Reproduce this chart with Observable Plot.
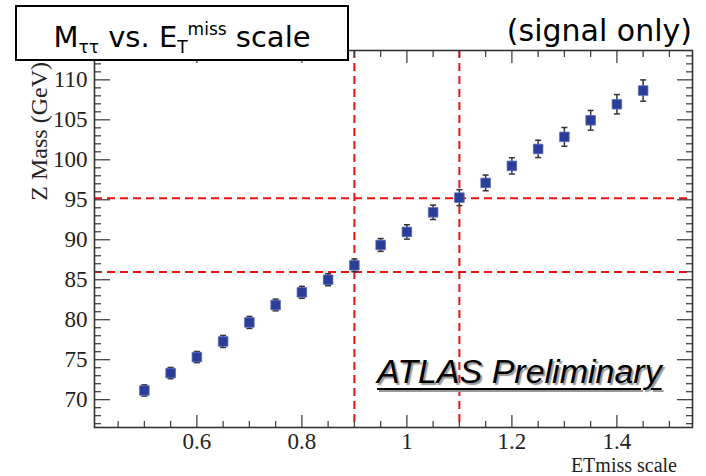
<!DOCTYPE html>
<html>
<head>
<meta charset="utf-8">
<script src="https://cdn.jsdelivr.net/npm/d3@7"></script>
<script src="https://cdn.jsdelivr.net/npm/@observablehq/plot@0.6"></script>
<style>
  html, body { margin: 0; padding: 0; background: #fff; }
  #wrap { position: relative; width: 706px; height: 476px; overflow: hidden; background: #fff; }
  #wrap svg { position: absolute; left: 0; top: 0; }
  .ov { position: absolute; white-space: nowrap; }
  #title { left: 15px; top: 5px; width: 330px; height: 52px; border: 2px solid #000; background: #fff;
           font-family: "DejaVu Sans", sans-serif; font-size: 29px; color: #000; line-height: 44px; text-align: center; }
  #title sub, #title sup { font-size: 17px; }
  #title sub { vertical-align: -6px; }
  #title sup { vertical-align: 12px; }
  #sig { right: 14px; top: 13px; font-family: "DejaVu Sans", sans-serif; font-size: 30px; color: #000; }
  #atlas { left: 377px; top: 352px; font-family: "Liberation Sans", Arial, sans-serif; font-style: italic;
           font-size: 34px; color: #000; text-decoration: underline; text-decoration-thickness: 2px;
           text-underline-offset: 5px; text-shadow: 2px 2px 1px #999; }
  #ylab { left: 39px; top: 62px; font-family: "Liberation Serif", serif; font-size: 24px; color: #222;
          transform-origin: 0 0; transform: rotate(-90deg) translate(-100%, -50%); }
  #xlab { right: 29px; top: 454px; font-family: "Liberation Serif", serif; font-size: 20px; color: #222; }
</style>
</head>
<body>
<div id="wrap"></div>
<script>
// ---- data ----
const scale = [0.50, 0.55, 0.60, 0.65, 0.70, 0.75, 0.80, 0.85, 0.90, 0.95,
               1.00, 1.05, 1.10, 1.15, 1.20, 1.25, 1.30, 1.35, 1.40, 1.45];
const zMass = [71.15, 73.33, 75.33, 77.28, 79.66, 81.84, 83.42, 85.00, 86.80, 89.35,
               90.98, 93.43, 95.27, 97.11, 99.24, 101.36, 102.87, 104.94, 106.95, 108.66];
const zErr  = [0.70, 0.70, 0.70, 0.75, 0.75, 0.73, 0.75, 0.75, 0.80, 0.80,
               0.90, 0.90, 1.00, 0.98, 1.02, 1.08, 1.17, 1.23, 1.21, 1.33];
const vLines = [0.9, 1.1];
const hLines = [85.97, 95.18];
const xMajor = [0.6, 0.8, 1.0, 1.2, 1.4];
const xMinor = [0.45, 0.5, 0.55, 0.65, 0.7, 0.75, 0.85, 0.9, 0.95, 1.05, 1.1, 1.15, 1.25, 1.3, 1.35, 1.45, 1.5];
const yMajor = [70, 75, 80, 85, 90, 95, 100, 105, 110];
const yMinor = [67, 68, 69, 71, 72, 73, 74, 76, 77, 78, 79, 81, 82, 83, 84, 86, 87, 88, 89,
                91, 92, 93, 94, 96, 97, 98, 99, 101, 102, 103, 104, 106, 107, 108, 109, 111, 112, 113];

const rows = scale.map((s, i) => ({s, m: zMass[i], e: zErr[i]}));

const capSymbol = {
  draw(ctx, size) {
    const w = Math.sqrt(size);
    ctx.moveTo(-w / 2, 0);
    ctx.lineTo(w / 2, 0);
  }
};

const red = "#ee1111";
const tickCol = "#444";
const blank = () => "";

const chart = Plot.plot({
  width: 706,
  height: 476,
  marginLeft: 94,
  marginRight: 14,
  marginTop: 50,
  marginBottom: 49,
  x: {domain: [0.405, 1.544]},
  y: {domain: [66.52, 113.67]},
  style: {fontFamily: "Liberation Serif, serif", fontSize: "23px", color: "#222", background: "transparent", overflow: "visible"},
  marks: [
    // dashed reference lines
    Plot.ruleY(hLines, {stroke: red, strokeWidth: 2, strokeDasharray: "8,5"}),
    Plot.ruleX(vLines, {stroke: red, strokeWidth: 2, strokeDasharray: "8,5"}),
    // inward ticks, all four sides
    Plot.axisX({anchor: "bottom", ticks: xMajor, tickSize: -12, tickFormat: blank, label: null, stroke: tickCol, strokeWidth: 1.3}),
    Plot.axisX({anchor: "bottom", ticks: xMinor, tickSize: -6, tickFormat: blank, label: null, stroke: tickCol, strokeWidth: 1.3}),
    Plot.axisX({anchor: "top", ticks: xMajor, tickSize: -12, tickFormat: blank, label: null, stroke: tickCol, strokeWidth: 1.3}),
    Plot.axisX({anchor: "top", ticks: xMinor, tickSize: -6, tickFormat: blank, label: null, stroke: tickCol, strokeWidth: 1.3}),
    Plot.axisY({anchor: "left", ticks: yMajor, tickSize: -16, tickFormat: blank, label: null, stroke: tickCol, strokeWidth: 1.3}),
    Plot.axisY({anchor: "left", ticks: yMinor, tickSize: -7, tickFormat: blank, label: null, stroke: tickCol, strokeWidth: 1.3}),
    Plot.axisY({anchor: "right", ticks: yMajor, tickSize: -16, tickFormat: blank, label: null, stroke: tickCol, strokeWidth: 1.3}),
    Plot.axisY({anchor: "right", ticks: yMinor, tickSize: -7, tickFormat: blank, label: null, stroke: tickCol, strokeWidth: 1.3}),
    // tick labels
    Plot.axisX({anchor: "bottom", ticks: xMajor, tickSize: 0, tickPadding: 5, tickFormat: d => d === 1 ? "1" : d3.format(".1f")(d), label: null, fill: "#222"}),
    Plot.axisY({anchor: "left", ticks: yMajor, tickSize: 0, tickPadding: 7, label: null, fill: "#222"}),
    // error bars
    Plot.ruleX(rows, {x: "s", y1: d => d.m - d.e, y2: d => d.m + d.e, stroke: "#333", strokeWidth: 1.5}),
    Plot.dot(rows, {x: "s", y: d => d.m + d.e, symbol: capSymbol, r: 3.4, stroke: "#333", strokeWidth: 1.5}),
    Plot.dot(rows, {x: "s", y: d => d.m - d.e, symbol: capSymbol, r: 3.4, stroke: "#333", strokeWidth: 1.5}),
    // markers
    Plot.dot(rows, {x: "s", y: "m", symbol: "square", r: 5.4, fill: "#2b3e97", stroke: "#5a6ab8", strokeWidth: 0.8}),
    Plot.frame({stroke: "#333", strokeWidth: 1.6})
  ]
});

const wrap = document.getElementById("wrap");
wrap.appendChild(chart);

function addDiv(id, html) {
  const d = document.createElement("div");
  d.id = id;
  d.className = "ov";
  d.innerHTML = html;
  wrap.appendChild(d);
}
addDiv("ylab", "Z Mass (GeV)");
addDiv("xlab", "ETmiss scale");
addDiv("atlas", "ATLAS Preliminary");
addDiv("sig", "(signal only)");
addDiv("title", "M<sub>ττ</sub> vs. E<sub>T</sub><sup>miss</sup> scale");
</script>
</body>
</html>
